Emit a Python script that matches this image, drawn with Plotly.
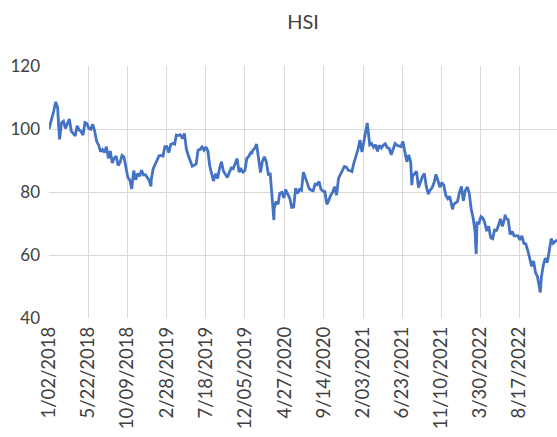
import plotly.graph_objects as go
from datetime import datetime

# HSI, rebased to 100 on 1/02/2018
dates_2018 = ["2018-01-02","2018-01-05","2018-01-12","2018-01-19","2018-01-26","2018-02-02","2018-02-06","2018-02-09",
              "2018-02-16","2018-02-23","2018-03-02","2018-03-09","2018-03-16","2018-03-23","2018-03-29","2018-04-06",
              "2018-04-13","2018-04-20","2018-04-27","2018-05-04","2018-05-11","2018-05-18","2018-05-25","2018-06-01",
              "2018-06-08","2018-06-15","2018-06-22","2018-06-29","2018-07-06","2018-07-13","2018-07-20","2018-07-27",
              "2018-08-03","2018-08-10","2018-08-17","2018-08-24","2018-08-31","2018-09-07","2018-09-14","2018-09-21",
              "2018-09-28","2018-10-05","2018-10-12","2018-10-19","2018-10-26","2018-11-02","2018-11-09","2018-11-16",
              "2018-11-23","2018-11-30","2018-12-07","2018-12-14","2018-12-21","2018-12-28"]
values_2018 = [100.0,101.0,102.9,105.7,108.6,106.8,100.3,96.7,
               102.0,102.5,100.2,101.6,103.2,99.3,98.6,97.8,
               101.0,99.7,99.2,98.1,102.0,101.7,100.2,99.9,
               101.5,99.3,96.1,94.9,92.8,93.5,92.5,94.4,
               90.7,93.0,89.2,90.7,91.4,88.4,89.4,91.6,
               91.1,87.1,84.6,83.8,81.0,86.8,83.9,85.8,
               85.0,86.9,85.4,85.5,84.4,83.6]

dates_2019 = ["2019-01-03","2019-01-04","2019-01-11","2019-01-18","2019-01-25","2019-02-01","2019-02-08","2019-02-15",
              "2019-02-22","2019-03-01","2019-03-08","2019-03-15","2019-03-22","2019-03-29","2019-04-04","2019-04-12",
              "2019-04-18","2019-04-26","2019-05-03","2019-05-10","2019-05-17","2019-05-24","2019-05-31","2019-06-06",
              "2019-06-14","2019-06-21","2019-06-28","2019-07-05","2019-07-12","2019-07-19","2019-07-26","2019-08-02",
              "2019-08-09","2019-08-15","2019-08-23","2019-08-30","2019-09-06","2019-09-13","2019-09-20","2019-09-27",
              "2019-10-04","2019-10-11","2019-10-18","2019-10-25","2019-11-01","2019-11-08","2019-11-15","2019-11-22",
              "2019-11-29","2019-12-06","2019-12-13","2019-12-20","2019-12-27","2019-12-31"]
values_2019 = [81.8,84.0,87.4,88.8,90.3,91.5,91.6,91.4,
               94.4,94.4,92.5,95.1,95.4,95.2,98.1,98.0,
               98.2,97.0,98.6,93.6,91.6,89.6,88.2,88.4,
               88.9,93.3,93.5,94.3,93.3,94.3,93.1,88.2,
               85.0,83.5,85.8,84.3,87.5,89.6,86.6,85.5,
               84.6,86.2,87.6,87.4,88.8,90.6,86.3,87.2,
               86.3,86.8,90.7,91.3,92.5,92.4]

dates_2020 = ["2020-01-03","2020-01-10","2020-01-17","2020-01-23","2020-01-31","2020-02-07","2020-02-14","2020-02-21",
              "2020-02-28","2020-03-06","2020-03-13","2020-03-19","2020-03-20","2020-03-27","2020-04-03","2020-04-09",
              "2020-04-17","2020-04-24","2020-04-30","2020-05-08","2020-05-15","2020-05-22","2020-05-29","2020-06-05",
              "2020-06-12","2020-06-19","2020-06-26","2020-07-03","2020-07-10","2020-07-17","2020-07-24","2020-07-31",
              "2020-08-07","2020-08-14","2020-08-21","2020-08-28","2020-09-04","2020-09-11","2020-09-18","2020-09-25",
              "2020-09-30","2020-10-09","2020-10-16","2020-10-23","2020-10-30","2020-11-06","2020-11-13","2020-11-20",
              "2020-11-27","2020-12-04","2020-12-11","2020-12-18","2020-12-24","2020-12-31"]
values_2020 = [93.2,93.8,95.2,91.5,86.2,89.8,91.2,89.5,
               85.6,85.7,78.8,71.1,74.7,77.0,76.1,79.6,
               79.9,78.1,80.8,79.4,78.0,75.1,75.2,81.2,
               79.6,80.8,80.5,86.3,84.3,82.2,81.0,80.6,
               80.4,82.5,82.3,83.3,80.9,80.3,80.1,76.1,
               76.9,79.0,79.9,81.7,79.0,84.3,85.7,86.7,
               88.1,87.9,86.9,86.8,86.5,89.2]

dates_2021 = ["2021-01-08","2021-01-15","2021-01-22","2021-01-29","2021-02-05","2021-02-10","2021-02-17","2021-02-19",
              "2021-02-26","2021-03-05","2021-03-12","2021-03-19","2021-03-26","2021-04-01","2021-04-09","2021-04-16",
              "2021-04-23","2021-04-30","2021-05-07","2021-05-14","2021-05-21","2021-05-28","2021-06-04","2021-06-11",
              "2021-06-18","2021-06-25","2021-07-02","2021-07-09","2021-07-16","2021-07-23","2021-07-27","2021-07-30",
              "2021-08-06","2021-08-13","2021-08-20","2021-08-27","2021-09-03","2021-09-10","2021-09-17","2021-09-24",
              "2021-09-30","2021-10-08","2021-10-15","2021-10-22","2021-10-29","2021-11-05","2021-11-12","2021-11-19",
              "2021-11-26","2021-12-03","2021-12-10","2021-12-17","2021-12-20","2021-12-24","2021-12-31"]
values_2021 = [91.4,93.6,96.5,92.7,96.0,98.4,101.9,100.4,
               95.0,95.4,94.2,95.0,92.9,94.8,94.0,94.9,
               95.3,94.1,93.8,91.8,93.3,95.4,94.8,94.5,
               94.4,96.0,92.8,89.6,91.8,89.5,82.2,85.1,
               85.8,86.5,81.4,83.3,84.9,85.9,81.7,79.3,
               80.5,81.4,83.0,85.6,83.2,81.5,83.0,82.1,
               78.9,77.9,78.6,76.0,74.5,76.1,76.7]

dates_2022 = ["2022-01-07","2022-01-14","2022-01-21","2022-01-28","2022-02-04","2022-02-11","2022-02-18","2022-02-25",
              "2022-03-04","2022-03-11","2022-03-15","2022-03-18","2022-03-25","2022-04-01","2022-04-08","2022-04-14",
              "2022-04-22","2022-04-29","2022-05-06","2022-05-13","2022-05-20","2022-05-27","2022-06-02","2022-06-10",
              "2022-06-17","2022-06-24","2022-06-27","2022-06-30","2022-07-08","2022-07-15","2022-07-22","2022-07-29",
              "2022-08-05","2022-08-12","2022-08-19","2022-08-26","2022-09-02","2022-09-09","2022-09-16","2022-09-23",
              "2022-09-30","2022-10-07","2022-10-14","2022-10-21","2022-10-28","2022-10-31","2022-11-04","2022-11-11",
              "2022-11-18","2022-11-25","2022-12-02","2022-12-09","2022-12-16","2022-12-23","2022-12-30"]
values_2022 = [77.0,79.9,81.8,77.2,80.5,81.6,79.7,74.6,
               71.8,67.4,60.3,70.2,70.1,72.2,71.7,70.5,
               67.6,69.1,65.5,65.2,67.9,67.8,69.1,71.5,
               69.1,71.2,72.8,71.6,71.2,66.5,67.5,66.1,
               66.2,66.1,64.8,66.1,63.7,63.5,61.5,58.8,
               56.4,58.1,54.4,53.1,48.7,48.1,53.0,56.8,
               59.0,57.6,61.2,65.2,63.7,64.2,64.8]

tick_labels = ["1/02/2018","5/22/2018","10/09/2018","2/28/2019","7/18/2019","12/05/2019","4/27/2020",
               "9/14/2020","2/03/2021","6/23/2021","11/10/2021","3/30/2022","8/17/2022"]
y_ticks = [40, 60, 80, 100, 120]

dates = dates_2018 + dates_2019 + dates_2020 + dates_2021 + dates_2022
values = values_2018 + values_2019 + values_2020 + values_2021 + values_2022
tick_vals = [datetime.strptime(t, "%m/%d/%Y").strftime("%Y-%m-%d") for t in tick_labels]

FONT = "Lato"
TXT = "#404040"
GRID = "#d9d9d9"

fig = go.Figure(go.Scatter(x=dates, y=values, mode="lines",
                           line=dict(color="#4472C4", width=2.8), hoverinfo="x+y"))

fig.update_layout(
    width=557, height=437,
    margin=dict(l=49, r=0, t=66, b=119),
    paper_bgcolor="white", plot_bgcolor="white",
    showlegend=False,
    font=dict(family=FONT, color=TXT),
    title=dict(text="HSI", x=0.5, xref="paper", xanchor="center",
               y=1 - 22/437, yref="container", yanchor="middle",
               font=dict(family=FONT, size=20, color=TXT)),
)
fig.update_xaxes(type="date", range=["2018-01-02", "2022-12-30"],
                 tickmode="array", tickvals=tick_vals, ticktext=tick_labels,
                 tickangle=-90, tickfont=dict(size=18.5, family=FONT, color=TXT),
                 showgrid=True, gridcolor=GRID, gridwidth=1,
                 showline=False, zeroline=False, ticks="", ticklabelstandoff=4)
fig.update_yaxes(range=[40, 120], tickmode="array", tickvals=y_ticks,
                 tickfont=dict(size=17, family=FONT, color=TXT),
                 showgrid=True, gridcolor=GRID, gridwidth=1,
                 showline=False, zeroline=False, ticks="", ticklabelstandoff=8)

fig.write_html("out.html", config={"displayModeBar": False},
               post_script="document.body.style.margin='0';document.documentElement.style.overflow='hidden';")
